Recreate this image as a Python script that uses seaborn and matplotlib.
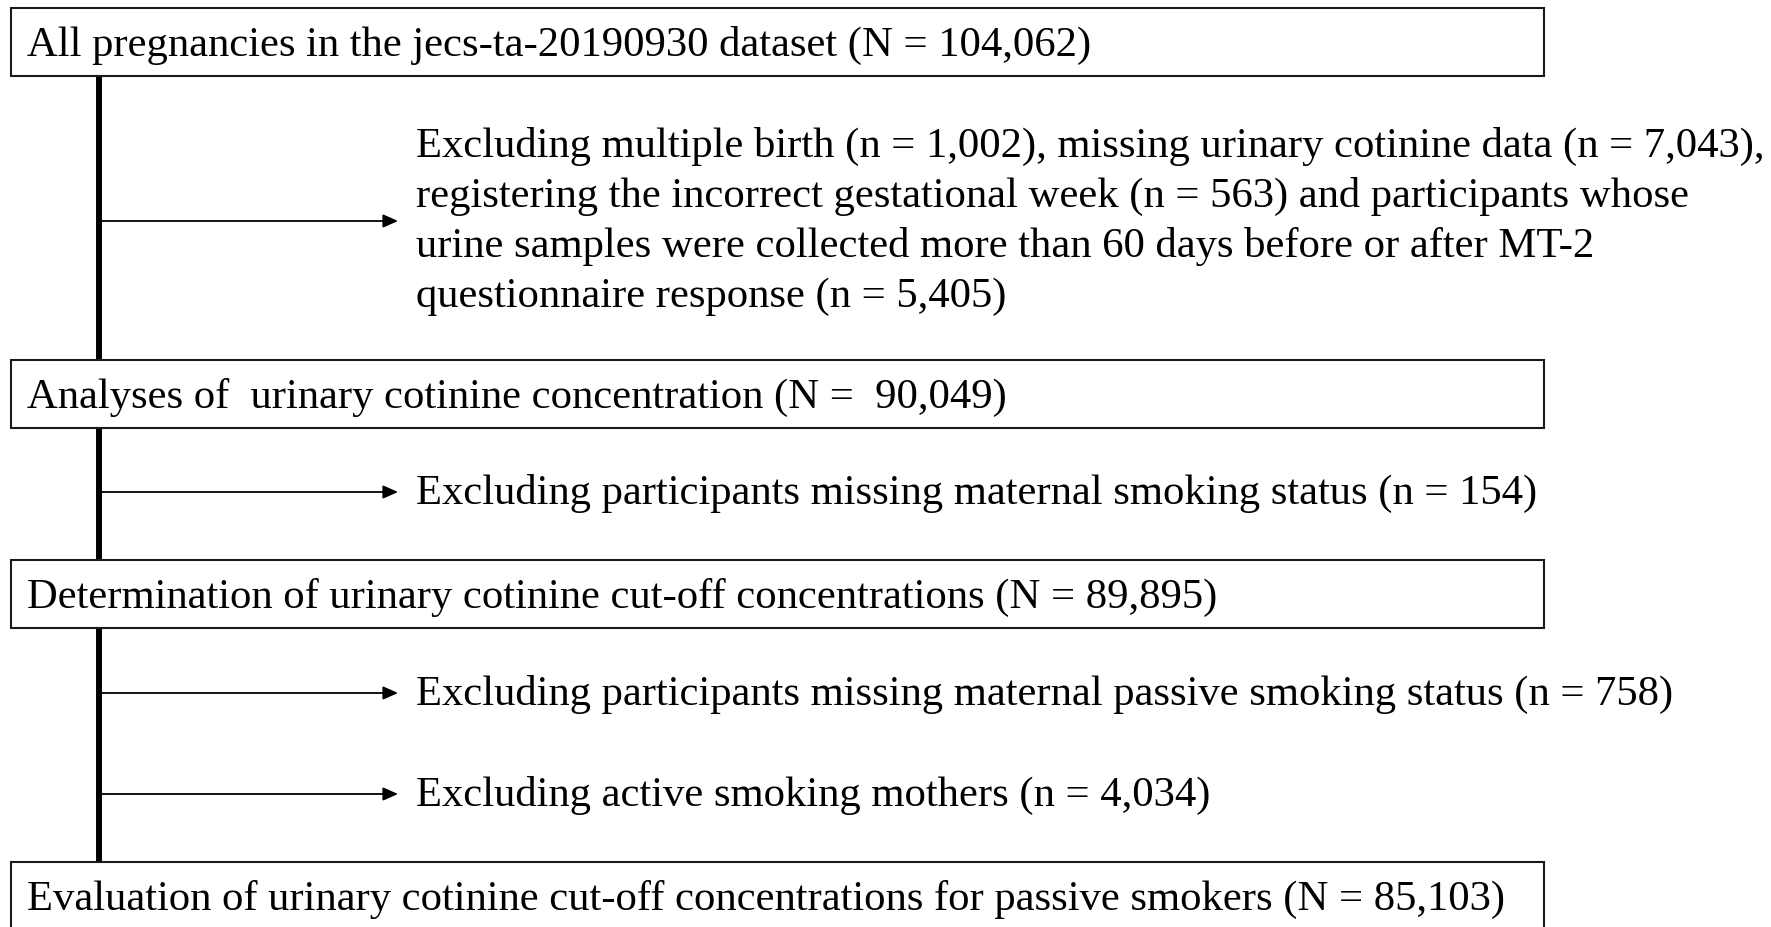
import matplotlib
matplotlib.use("Agg")
import matplotlib.pyplot as plt
from matplotlib.patches import Rectangle
import seaborn as sns

# flowchart contents
box_labels = [
    "All pregnancies in the jecs-ta-20190930 dataset",
    "Analyses of  urinary cotinine concentration",
    "Determination of urinary cotinine cut-off concentrations",
    "Evaluation of urinary cotinine cut-off concentrations for passive smokers",
]
box_n = ["104,062", " 90,049", "89,895", "85,103"]

exclusion_labels = [
    "Excluding multiple birth (n = 1,002), missing urinary cotinine data (n = 7,043),\n"
    "registering the incorrect gestational week (n = 563) and participants whose\n"
    "urine samples were collected more than 60 days before or after MT-2\n"
    "questionnaire response (n = 5,405)",
    "Excluding participants missing maternal smoking status (n = 154)",
    "Excluding participants missing maternal passive smoking status (n = 758)",
    "Excluding active smoking mothers (n = 4,034)",
]

# layout (pixels, y downwards)
box_tops = [8, 360, 560, 862]
box_h = 68
box_left, box_right = 11, 1544
spine_x = 99
arrow_y = [221, 492, 693, 794]
arrow_tip = 398
text_x = 416
line_gap = 50

sns.set_theme(style="white")
plt.rcParams["font.family"] = ["Liberation Serif", "DejaVu Serif"]

fig = plt.figure(figsize=(17.71, 9.27), dpi=100)
ax = fig.add_axes([0, 0, 1, 1])
ax.set_xlim(0, 1771)
ax.set_ylim(927, 0)
ax.axis("off")

# main vertical spine
sns.lineplot(x=[spine_x, spine_x], y=[box_tops[0] + box_h, box_tops[-1]],
             ax=ax, color="black", linewidth=4.3, estimator=None, sort=False)

fs = 30.7
for top, lab, n in zip(box_tops, box_labels, box_n):
    ax.add_patch(Rectangle((box_left, top), box_right - box_left, box_h,
                           facecolor="white", edgecolor="#1a1a1a", linewidth=1.5, zorder=3))
    ax.text(27, top + 48, f"{lab} (N = {n})", fontsize=fs, va="baseline",
            ha="left", color="black", zorder=4)

for y, lab in zip(arrow_y, exclusion_labels):
    ax.annotate("", xy=(arrow_tip, y), xytext=(spine_x + 3, y),
                arrowprops=dict(arrowstyle="-|>,head_length=0.9,head_width=0.4",
                                mutation_scale=10, color="black", lw=1.3,
                                shrinkA=0, shrinkB=0))
    lines = lab.split("\n")
    if len(lines) > 1:
        base = y - 14 - line_gap
    else:
        base = y + 12
    for i, ln in enumerate(lines):
        ax.text(text_x, base + i * line_gap, ln, fontsize=fs, va="baseline",
                ha="left", color="black")

fig.savefig("out.png", dpi=100)
